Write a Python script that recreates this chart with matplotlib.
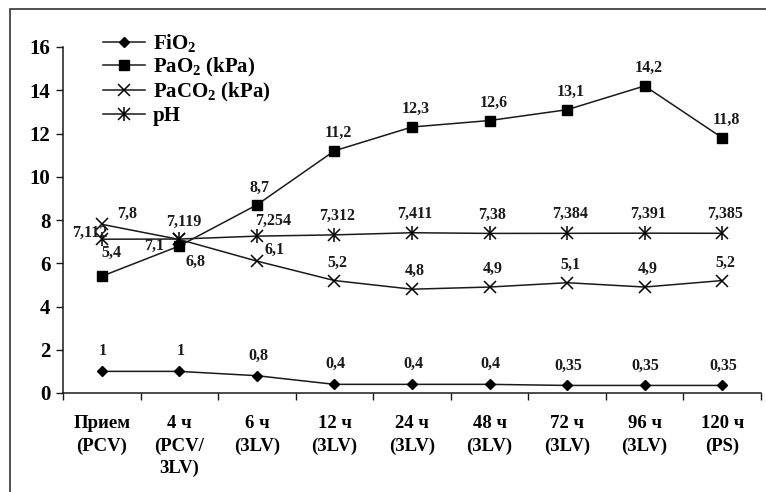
import matplotlib
matplotlib.use("Agg")
import matplotlib.pyplot as plt
from matplotlib.patches import Rectangle
import numpy as np

plt.rcParams['font.family'] = ['Liberation Serif', 'DejaVu Serif']
plt.rcParams['font.weight'] = 'bold'
plt.rcParams['mathtext.fontset'] = 'custom'
plt.rcParams['mathtext.rm'] = 'Liberation Serif:bold'
plt.rcParams['mathtext.default'] = 'rm'

categories = ["Прием\n(PCV)", "4 ч\n(PCV/\n3LV)", "6 ч\n(3LV)", "12 ч\n(3LV)", "24 ч\n(3LV)",
              "48 ч\n(3LV)", "72 ч\n(3LV)", "96 ч\n(3LV)", "120 ч\n(PS)"]
fio2 = [1, 1, 0.8, 0.4, 0.4, 0.4, 0.35, 0.35, 0.35]
pao2 = [5.4, 6.8, 8.7, 11.2, 12.3, 12.6, 13.1, 14.2, 11.8]
paco2 = [7.8, 7.1, 6.1, 5.2, 4.8, 4.9, 5.1, 4.9, 5.2]
ph = [7.112, 7.119, 7.254, 7.312, 7.411, 7.38, 7.384, 7.391, 7.385]
yticks = [0, 2, 4, 6, 8, 10, 12, 14, 16]

def fmt(v):
    s = ("%g" % v)
    return s.replace(".", ",")

W, H = 766, 492
fig = plt.figure(figsize=(W / 100, H / 100), dpi=100)
ax = fig.add_axes([63 / W, 1 - 393 / H, (761 - 63) / W, (393 - 47) / H])

x = np.arange(len(categories))
lc = '#1a1a1a'
lw = 1.1
h1, = ax.plot(x, fio2, color=lc, lw=lw, marker='D', ms=5.5, mfc='black', mec='black')
h2, = ax.plot(x, pao2, color=lc, lw=lw, marker='s', ms=7.5, mfc='black', mec='black')
h3, = ax.plot(x, paco2, color=lc, lw=lw, marker='x', ms=8.5, mew=1.1, mec='black')
h4, = ax.plot(x, ph, color=lc, lw=lw, marker='x', ms=8.5, mew=1.1, mec='black')
h4b, = ax.plot(x, ph, ls='none', marker='|', ms=10, mew=1.1, mec='black')

lab_fs = 11.5
def label(series, i, dx=3, dy=18):
    ax.annotate(fmt(series[i]), (x[i], series[i]), xytext=(dx, dy), textcoords='offset pixels',
                ha='center', va='center', fontsize=lab_fs, fontweight='bold', color='#1a1a1a')

for i in range(len(x)):
    label(fio2, i, 1, 20)

pao2_off = {0: (10, 23), 1: (16, -16), 2: (3, 17)}
paco2_off = {0: (25, 10), 1: (-25, -6), 2: (18, 11)}
ph_off = {0: (-12, 6), 1: (4, 17), 2: (16, 15)}
for i in range(len(x)):
    label(pao2, i, *pao2_off.get(i, (4, 18)))
    label(paco2, i, *paco2_off.get(i, (3, 18)))
    label(ph, i, *ph_off.get(i, (3, 19)))

ax.set_xlim(-0.5, len(x) - 0.5)
ax.set_ylim(0, 16)
ax.set_yticks(yticks)
ax.set_yticklabels([str(t) for t in yticks], fontsize=15, fontweight='bold')
ax.set_xticks(x)
ax.set_xticklabels(categories, fontsize=13.5, fontweight='bold', linespacing=1.38, va='top')
ax.set_xticks(np.arange(-0.5, len(x), 1.0), minor=True)
ax.tick_params(axis='x', which='major', length=0, pad=16)
ax.tick_params(axis='x', which='minor', length=5, width=1, direction='out', color=lc)
ax.tick_params(axis='y', length=5, width=1, direction='out', pad=4, color=lc)
for s in ['top', 'right']:
    ax.spines[s].set_visible(False)
for s in ['left', 'bottom']:
    ax.spines[s].set_linewidth(1.1)
    ax.spines[s].set_color(lc)

leg = ax.legend([h1, h2, h3, (h4, h4b)], ['FiO$_2$', 'PaO$_2$ (kPa)', 'PaCO$_2$ (kPa)', 'pH'],
                loc='upper left', bbox_to_anchor=(103 / W, 1 - 32 / H), bbox_transform=fig.transFigure,
                frameon=False, fontsize=15, handlelength=2.0, handletextpad=0.4, labelspacing=0.1,
                borderpad=0, borderaxespad=0)
for t in leg.get_texts():
    t.set_fontweight('bold')

fig.patches.append(Rectangle((10 / W, -0.1), 1.2, 1 - 9 / H + 0.1, transform=fig.transFigure,
                             fill=False, lw=1.2, edgecolor='#333333'))

fig.savefig('out.png', dpi=100)
